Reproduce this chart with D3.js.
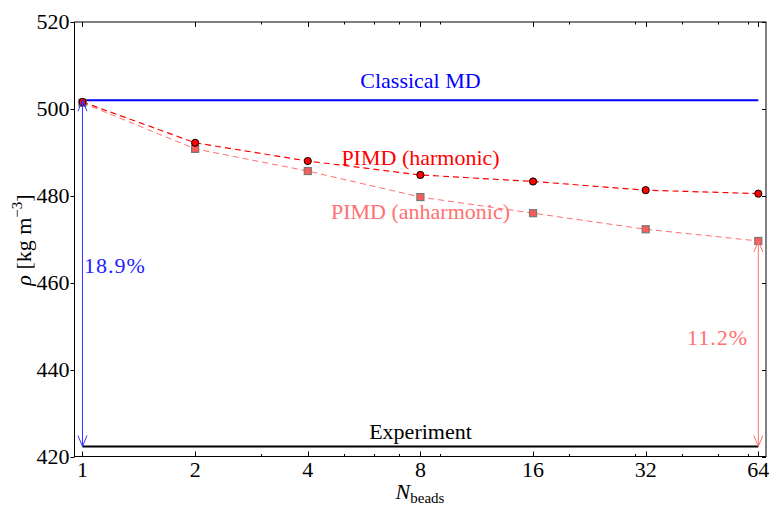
<!DOCTYPE html>
<html><head><meta charset="utf-8">
<script src="https://cdn.jsdelivr.net/npm/d3@7"></script>
<style>
html,body{margin:0;padding:0;background:#fff;}
svg text{font-family:'Liberation Serif','Times New Roman',Times,'DejaVu Serif',serif;}
</style></head>
<body><svg id="c" width="769" height="506" font-family="Liberation Serif, Times New Roman, Times, DejaVu Serif, serif"></svg>
<script>
const beads = [1, 2, 4, 8, 16, 32, 64];
const harmonic = [501.6, 492.2, 488.0, 484.8, 483.3, 481.3, 480.5];
const anharmonic = [501.4, 490.8, 485.7, 479.7, 476.0, 472.3, 469.6];
const classicalMD = 502.0;
const experiment = 422.3;
const xTicks = [1, 2, 4, 8, 16, 32, 64];
const xMinorTicks = [3, 5, 6, 7, 9, 20, 30, 40, 50, 60];
const yTicks = [420, 440, 460, 480, 500, 520];
const pctClassical = "18.9%";
const pctAnharm = "11.2%";

const L = 74.5, R = 766, T = 22, B = 456.5;
const svg = d3.select("#c");
const x = d3.scaleLog().base(2).domain([0.952, 67.1]).range([L, R]);
const y = d3.scaleLinear().domain([420, 520]).range([B, T]);
const FONT = "Liberation Serif, Times New Roman, Times, DejaVu Serif, serif";
const FS = 22;
function txt(sel) { return sel.append("text").attr("font-family", FONT); }

// frame
svg.append("rect").attr("x", L).attr("y", T).attr("width", R - L).attr("height", B - T)
  .attr("fill", "none").attr("stroke", "#000").attr("stroke-width", 1);

// x ticks (bottom & top, inward)
const gx = svg.append("g");
xTicks.forEach(v => {
  const px = Math.round(x(v)) + 0.5;
  gx.append("line").attr("x1", px).attr("x2", px).attr("y1", B).attr("y2", B - 5).attr("stroke", "#000");
  gx.append("line").attr("x1", px).attr("x2", px).attr("y1", T).attr("y2", T + 5).attr("stroke", "#000");
  txt(gx).attr("x", x(v)).attr("y", 477).attr("text-anchor", "middle")
    .attr("font-size", FS).text(v);
});
xMinorTicks.forEach(v => {
  const px = Math.round(x(v)) + 0.5;
  gx.append("line").attr("x1", px).attr("x2", px).attr("y1", B).attr("y2", B - 2.5).attr("stroke", "#000");
  gx.append("line").attr("x1", px).attr("x2", px).attr("y1", T).attr("y2", T + 2.5).attr("stroke", "#000");
});
// y ticks
const gy = svg.append("g");
yTicks.forEach(v => {
  const py = Math.round(y(v)) + 0.5;
  gy.append("line").attr("x1", L - 4).attr("x2", L).attr("y1", py).attr("y2", py).attr("stroke", "#000");
  gy.append("line").attr("x1", R - 4).attr("x2", R).attr("y1", py).attr("y2", py).attr("stroke", "#000");
  txt(gy).attr("x", 69.5).attr("y", y(v)).attr("dy", "0.34em").attr("text-anchor", "end")
    .attr("font-size", FS).text(v);
});

// axis labels
const xl = txt(svg).attr("x", 420).attr("y", 499).attr("text-anchor", "middle").attr("font-size", FS);
xl.append("tspan").attr("font-style", "italic").text("N");
xl.append("tspan").attr("font-size", 15).attr("dy", 4).text("beads");

const yl = txt(svg).attr("transform", "translate(31,240) rotate(-90)")
  .attr("text-anchor", "middle").attr("font-size", FS);
yl.append("tspan").attr("font-style", "italic").text("ρ");
yl.append("tspan").text(" [kg m");
yl.append("tspan").attr("font-size", 15).attr("dy", -9).text("−3");
yl.append("tspan").attr("dy", 9).text("]");

// reference lines
svg.append("line").attr("x1", x(1)).attr("x2", x(64)).attr("y1", y(classicalMD)).attr("y2", y(classicalMD))
  .attr("stroke", "#0000ff").attr("stroke-width", 2);
svg.append("line").attr("x1", x(1)).attr("x2", x(64)).attr("y1", y(experiment)).attr("y2", y(experiment))
  .attr("stroke", "#000").attr("stroke-width", 2);

// series lines
const line = d3.line().x(d => x(d[0])).y(d => y(d[1]));
svg.append("path").datum(beads.map((b, i) => [b, anharmonic[i]])).attr("d", line)
  .attr("fill", "none").attr("stroke", "#ff7070").attr("stroke-width", 1).attr("stroke-dasharray", "6,4");
svg.append("path").datum(beads.map((b, i) => [b, harmonic[i]])).attr("d", line)
  .attr("fill", "none").attr("stroke", "#ff0000").attr("stroke-width", 1.2).attr("stroke-dasharray", "6,4");

// markers
beads.forEach((b, i) => {
  svg.append("rect").attr("x", x(b) - 3.5).attr("y", y(anharmonic[i]) - 3.5).attr("width", 7).attr("height", 7)
    .attr("fill", "#ff5a5a").attr("stroke", "#777").attr("stroke-width", 1.2);
});
beads.forEach((b, i) => {
  svg.append("circle").attr("cx", x(b)).attr("cy", y(harmonic[i])).attr("r", 3.6)
    .attr("fill", "#ff0000").attr("stroke", "#000").attr("stroke-width", 1);
});

// double arrows
function dblArrow(xv, y1v, y2v, color) {
  const px = x(xv), pa = y(y1v), pb = y(y2v);
  const g = svg.append("g").attr("stroke", color).attr("fill", "none").attr("stroke-width", 1);
  g.append("line").attr("x1", px).attr("x2", px).attr("y1", pa).attr("y2", pb);
  g.append("path").attr("d", `M${px - 4.5},${pa + 11}L${px},${pa}L${px + 4.5},${pa + 11}`);
  g.append("path").attr("d", `M${px - 4.5},${pb - 11}L${px},${pb}L${px + 4.5},${pb - 11}`);
}
dblArrow(1, classicalMD, experiment, "#3333ff");
dblArrow(64, anharmonic[6], experiment, "#ff7070");

// labels
txt(svg).attr("x", 420.5).attr("y", 88).attr("text-anchor", "middle").attr("font-size", FS)
  .attr("fill", "#0000ff").text("Classical MD");
txt(svg).attr("x", 420.5).attr("y", 165).attr("text-anchor", "middle").attr("font-size", FS)
  .attr("fill", "#ff0000").text("PIMD (harmonic)");
txt(svg).attr("x", 420.5).attr("y", 219).attr("text-anchor", "middle").attr("font-size", FS)
  .attr("fill", "#ff7070").text("PIMD (anharmonic)");
txt(svg).attr("x", 420.5).attr("y", 439).attr("text-anchor", "middle").attr("font-size", FS)
  .attr("fill", "#000").text("Experiment");
txt(svg).attr("x", 84).attr("y", 273).attr("text-anchor", "start").attr("font-size", FS)
  .attr("fill", "#2222ff").attr("letter-spacing", 1).text(pctClassical);
txt(svg).attr("x", 748).attr("y", 345).attr("text-anchor", "end").attr("font-size", FS)
  .attr("fill", "#ff7070").attr("letter-spacing", 1).text(pctAnharm);
</script></body></html>
